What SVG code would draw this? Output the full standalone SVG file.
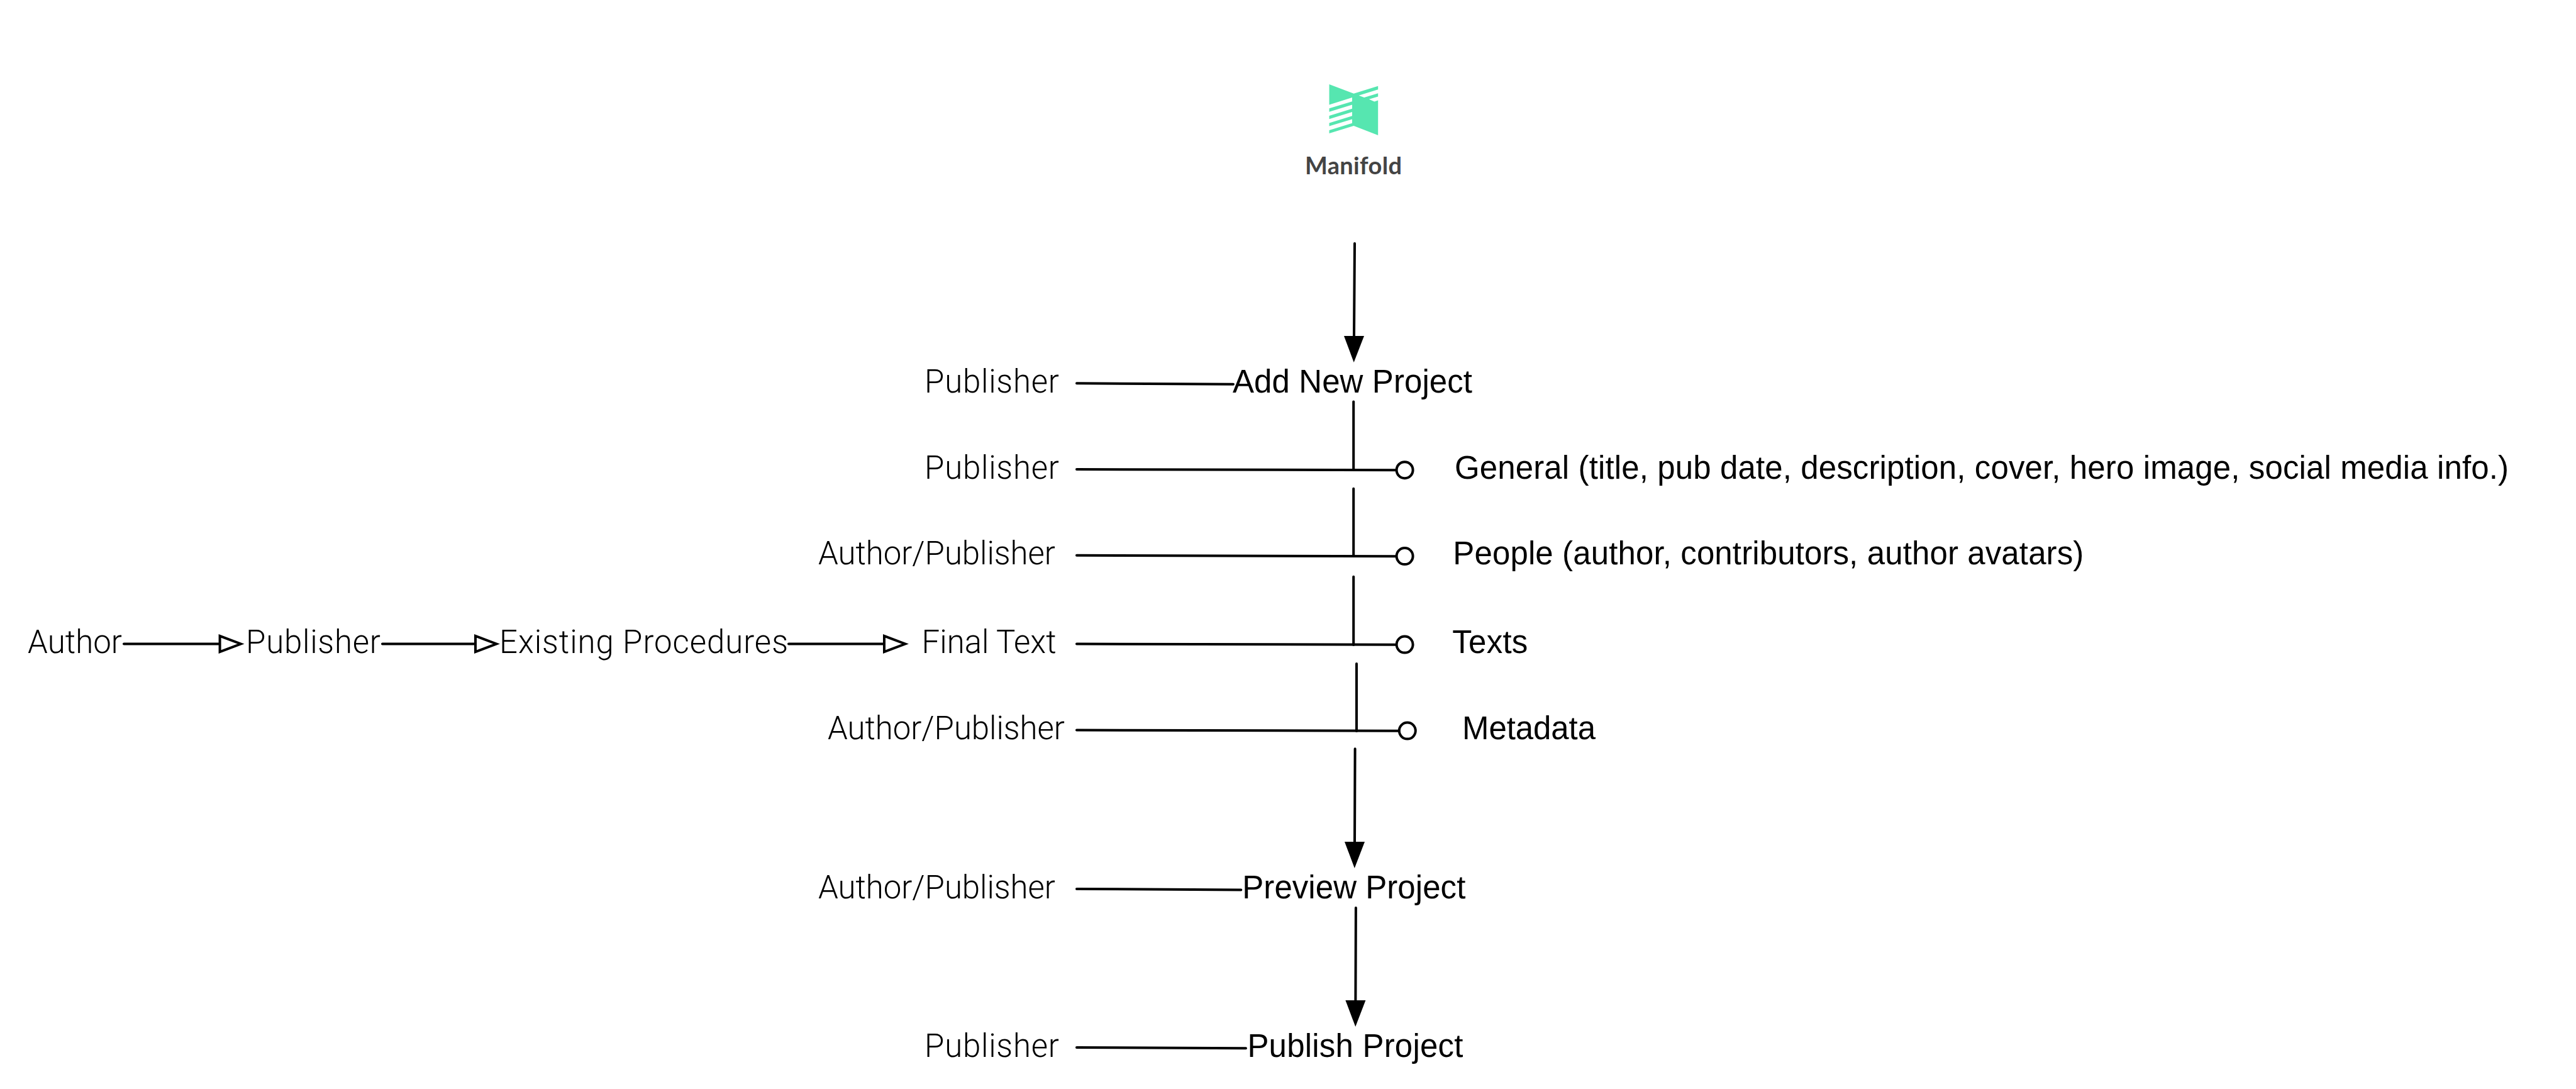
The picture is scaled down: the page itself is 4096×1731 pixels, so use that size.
<svg xmlns="http://www.w3.org/2000/svg" width="4096" height="1731" viewBox="0 0 4096 1731">
<style>
text{font-family:"Liberation Sans",Arial,sans-serif;font-size:51px;fill:#000}
text.l{font-family:Roboto,"Liberation Sans",sans-serif;font-weight:300}
text.b{font-family:Lato,"Liberation Sans",sans-serif;font-weight:700;font-size:38px;fill:#444}
.c line{stroke:#000;stroke-width:4;stroke-linecap:round;fill:none}
.o{fill:#fff;stroke:#000;stroke-width:4}
</style>
<defs>
<marker id="f" markerUnits="userSpaceOnUse" markerWidth="44" markerHeight="34" viewBox="0 0 44 34" refX="0" refY="17" orient="auto" overflow="visible"><path d="M0,1 L42,17 L0,33 Z" fill="#000"/></marker>
<marker id="h" markerUnits="userSpaceOnUse" markerWidth="44" markerHeight="34" viewBox="0 0 44 34" refX="2" refY="17" orient="auto" overflow="visible"><path d="M2,4.4 L35.3,17 L2,29.6 Z" fill="#fff" stroke="#000" stroke-width="4"/></marker>
</defs>
<rect width="4096" height="1731" fill="#fff"/>
<g id="logo" transform="translate(2000.7,102.6) scale(.171)">
<polygon fill="#56e6b0" points="660,183 888,270 1114,200 1114,232 935,288 985,307 1114,267 1114,297 1030,323 1080,344 1114,333 1114,657 888,570 660,640 660,610 873,545 873,508 660,573 660,543 873,477 873,441 660,506 660,476 873,410 873,374 660,440 660,408 873,343 873,307 660,373"/>
</g>
<text id="logo-text" class="b" x="2075" y="277" textLength="154">Manifold</text>
<g id="connectors" class="c">
<line x1="2154" y1="387" x2="2153" y2="534" marker-end="url(#f)"/>
<line x1="1712" y1="609.3" x2="1961" y2="610.8"/>
<line x1="2152.2" y1="638.6" x2="2152.2" y2="747"/>
<line x1="1712" y1="746" x2="2222" y2="747.3"/>
<line x1="2152.2" y1="776.7" x2="2152.2" y2="884"/>
<line x1="1712" y1="882.8" x2="2220" y2="884.2"/>
<line x1="2152.2" y1="916.7" x2="2152.2" y2="1025"/>
<line x1="1712" y1="1023.6" x2="2220" y2="1024.8"/>
<line x1="2157" y1="1055" x2="2157" y2="1162"/>
<line x1="1712" y1="1160.5" x2="2224" y2="1161.8"/>
<line x1="2154.6" y1="1190.3" x2="2154" y2="1338" marker-end="url(#f)"/>
<line x1="1712" y1="1413" x2="1973.3" y2="1414.4"/>
<line x1="2155.9" y1="1443" x2="2155.4" y2="1590" marker-end="url(#f)"/>
<line x1="1712" y1="1665" x2="1981" y2="1666.3"/>
<line x1="197" y1="1023.5" x2="349.6" y2="1023.5" marker-end="url(#h)"/>
<line x1="608" y1="1023.5" x2="756" y2="1023.5" marker-end="url(#h)"/>
<line x1="1254" y1="1023.5" x2="1406" y2="1023.5" marker-end="url(#h)"/>
</g>
<g id="circles">
<circle class="o" cx="2233.6" cy="747.2" r="13"/>
<circle class="o" cx="2233.6" cy="884.1" r="13"/>
<circle class="o" cx="2233.6" cy="1024.6" r="13"/>
<circle class="o" cx="2237.8" cy="1161.6" r="13"/>
</g>
<g id="n-author"><text class="l" x="44" y="1038" textLength="150">Author</text></g>
<g id="n-publisher-chain"><text class="l" x="391" y="1038" textLength="214">Publisher</text></g>
<g id="n-existing"><text class="l" x="794" y="1038" textLength="459">Existing Procedures</text></g>
<g id="n-final"><text class="l" x="1465.6" y="1038" textLength="214">Final Text</text></g>
<g id="r1"><text class="l" x="1470" y="624" textLength="214">Publisher</text></g>
<g id="r2"><text class="l" x="1470" y="761" textLength="214">Publisher</text></g>
<g id="r3"><text class="l" x="1301" y="897" textLength="377">Author/Publisher</text></g>
<g id="r5"><text class="l" x="1316" y="1175" textLength="377">Author/Publisher</text></g>
<g id="r6"><text class="l" x="1301" y="1428" textLength="377">Author/Publisher</text></g>
<g id="r7"><text class="l" x="1470" y="1680" textLength="214">Publisher</text></g>
<g id="add"><text x="1960" y="624" textLength="381">Add New Project</text></g>
<g id="general"><text x="2313" y="761" textLength="1676">General (title, pub date, description, cover, hero image, social media info.)</text></g>
<g id="people"><text x="2310.3" y="897" textLength="1003">People (author, contributors, author avatars)</text></g>
<g id="texts"><text x="2309.3" y="1038" textLength="120">Texts</text></g>
<g id="metadata"><text x="2325" y="1175" textLength="212">Metadata</text></g>
<g id="preview"><text x="1975.3" y="1428" textLength="355">Preview Project</text></g>
<g id="publish"><text x="1983.4" y="1680" textLength="343">Publish Project</text></g>
</svg>
